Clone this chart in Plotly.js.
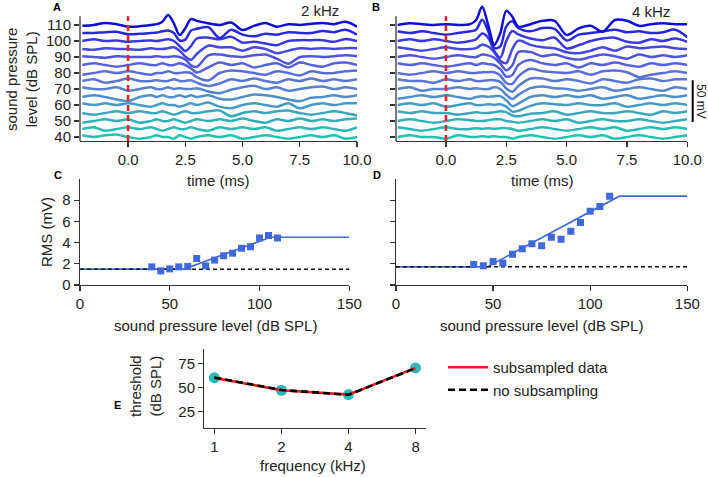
<!DOCTYPE html>
<html><head><meta charset="utf-8">
<script src="https://cdn.plot.ly/plotly-3.0.1.min.js"></script>
<style>html,body{margin:0;padding:0;background:#fff}#chart{width:708px;height:477px}</style>
</head><body><div id="chart"></div>
<script>
// ---------- data ----------
const timeMs = [-2,-1.5,-1,-0.5,0,0.5,1,1.25,1.5,1.75,2,2.25,2.5,2.75,3,3.5,4,4.5,5,5.5,6,6.5,7,7.5,8,8.5,9,9.5,10];
const levels = [40,45,50,55,60,65,70,75,80,85,90,95,100,105,110];
const levelTicks = [40,50,60,70,80,90,100,110];
const MV_PER_50 = 26; // 50 mV scale bar spans 26 dB-units on the offset axis

// 2 kHz ABR traces (mV, deflection from each level's baseline)
const A110 = [-1,0,2.5,1,-2,-1.5,0,1,4,12,2,-12,-4,7,5,2,0,3,-6,-1,2.5,-2,1,0,1.5,2.5,1,4,-2];
const A105 = [0,0,1,1.5,-1.5,-1,0,0.5,2,3,0,-9,-8,3,5,7,-6,4,-2,-4,-1,-2,1,0,0,2.5,1,4,-2];
const A100 = [0,2,0,0.5,-1,0,0.5,0,1,2,0,-6,-12,-6,3,4,2,5,-2,-1,-3,-5,0,1,1,1,-1,2.5,0];
const A95  = [0,-1,1,0,0,-1,1,0,0,1,2,-2,-9,-13,-6,4,2,2,-2,2,0,-5,-2,1,0,1,0,1,1];
const A90  = [1,0,-1,1,0,0,0,1,0,0,1,0,-3,-10,-12,2,3,1,0,2,3,-2,-8,0,1,0,1,2,1];
const A85  = [0,2,0,-2,0,2,0,0,2,0,0,2,0,-4,-9,-3,3,0,2,-3,0,2,-3,3,0,-2,2,3,0];
const A80  = [-2,0,2,0,2,0,-2,0,0,2,0,0,1,0,-5,-9,0,3,2,0,-2,2,0,-3,2,0,0,2,3];
const A75  = [0,2,-2,0,3,0,0,1,0,0,2,0,0,1,-2,-6,-3,2,0,3,0,-2,2,0,3,0,2,0,2];
const A70  = [2,0,0,2,-2,0,2,0,0,2,0,1,0,0,1,-3,-5,-1,2,4,0,2,-2,0,2,3,0,2,0];
const A65  = [0,2,0,-3,-5,0,2,0,2,0,0,2,0,2,0,2,-2,-3,0,3,2,0,-3,-5,-1,0,2,0,2];
const A60  = [2,0,2,0,2,0,-2,0,2,0,0,-2,0,2,0,3,-2,-4,0,2,0,-2,2,-4,0,2,0,2,2];
const A55  = [0,-2,0,2,0,2,0,0,2,0,-2,0,2,0,0,2,3,-4,0,2,0,2,3,0,-2,0,2,0,-3];
const A50  = [-2,0,2,0,2,-2,0,2,0,0,2,0,-2,0,2,0,2,0,3,0,-2,2,0,3,0,2,0,2,3];
const A45  = [0,2,-2,0,2,0,2,0,-2,0,2,0,0,2,0,-2,2,0,2,0,2,-2,0,2,0,2,0,-2,2];
const A40  = [2,0,2,3,0,-2,0,2,0,0,-2,2,0,-2,0,2,0,2,-2,0,2,0,-2,0,2,0,2,-2,0];

// 4 kHz ABR traces (mV)
const B110 = [0,2,1,0,1,0,1,6,22,0,-24,-10,17,10,-2,1,5,5,-12,-4,-1,-8,6,5,-1,1,2,1,1];
const B105 = [2,0,2,0,-2,0,2,4,16,2,-18,-16,8,14,6,2,6,5,-9,-2,0,2,4,1,2,0,1,4,-5];
const B100 = [0,2,0,2,0,-2,0,2,9,4,-12,-20,0,12,8,3,1,4,-9,-5,0,3,4,-1,-2,2,0,3,-1];
const B95  = [2,0,-2,0,2,0,0,1,5,3,-4,-14,-17,0,10,5,2,1,-4,-5,-2,2,-2,3,1,2,3,1,0];
const B90  = [0,2,0,-2,0,2,0,0,3,2,-1,-8,-16,-10,6,6,1,3,-1,-3,0,3,1,-2,3,0,2,0,2];
const B85  = [2,0,2,0,-2,0,2,0,2,1,0,-5,-14,-12,0,6,2,0,2,-3,2,0,3,0,-2,2,0,2,0];
const B80  = [0,-2,0,2,0,2,0,0,1,1,1,-3,-12,-13,-4,5,2,1,0,2,-2,2,3,1,-5,-2,0,2,0];
const B75  = [2,0,0,-2,2,0,2,0,0,1,1,-1,-9,-13,-6,3,3,0,2,0,-3,2,0,-2,2,3,0,2,2];
const B70  = [0,2,-2,0,0,2,0,1,0,0,2,0,-7,-12,-7,1,3,1,0,-2,0,2,-2,0,2,0,-2,2,0];
const B65  = [-2,0,2,0,2,0,-2,0,1,0,1,1,-4,-11,-8,0,2,0,2,0,2,-2,0,2,-2,0,2,0,2];
const B60  = [0,2,0,2,-2,0,2,0,0,1,0,1,-2,-8,-7,-1,2,1,0,2,0,0,2,-2,0,2,0,2,0];
const B55  = [2,0,2,0,0,-2,0,1,0,0,1,2,1,-3,-4,-1,0,2,-2,0,2,0,0,2,0,-2,2,0,2];
const B50  = [0,2,0,-2,0,2,1,0,0,1,2,2,0,-1,-2,0,2,0,2,-2,0,2,0,0,2,0,-2,0,2];
const B45  = [2,0,-2,0,2,0,0,1,0,1,0,1,1,0,-2,0,2,0,-2,0,2,0,2,-2,0,2,0,2,0];
const B40  = [0,2,0,0,-2,2,0,0,1,0,1,0,0,-2,0,2,0,-2,0,2,0,2,-2,0,2,0,-2,0,2];

// RMS vs level
const splLevels = [40,45,50,55,60,65,70,75,80,85,90,95,100,105,110];
const rms2k = [1.71,1.33,1.52,1.71,1.75,2.5,1.8,2.35,2.76,3.0,3.46,3.62,4.44,4.67,4.44];
const rms4k = [1.94,1.81,2.22,2.06,2.89,3.43,3.90,3.71,4.51,4.32,5.08,5.90,6.95,7.40,8.38];
const fit2kX = [0,58,106,150];
const fit2kY = [1.5,1.5,4.5,4.5];
const fit4kX = [0,47,115,150];
const fit4kY = [1.71,1.71,8.38,8.38];
const noiseX = [0,150];
const noise2k = [1.49,1.49];
const noise4k = [1.71,1.71];

// thresholds
const freqKHz = [1,2,4,8];
const thrSub = [60,47.2,42.7,70.3];
const thrSubErr = [2.2,4,2.8,1.6];
const thrNoSub = [60.3,47.5,42.5,70];

// ---------- helpers ----------
const W = 708, H = 477;
const px = v => v / W;
const py = v => 1 - v / H;
const FONT = 'Liberation Sans, Arial, sans-serif';
const TXT = '#222';
const AX = '#333';
const colors = ['rgb(30,195,178)','rgb(40,186,182)','rgb(50,176,186)','rgb(60,166,190)','rgb(70,155,196)',
  'rgb(78,143,201)','rgb(85,131,206)','rgb(90,120,211)','rgb(90,110,215)','rgb(86,98,218)',
  'rgb(80,86,220)','rgb(70,72,221)','rgb(56,56,221)','rgb(40,40,220)','rgb(14,14,214)'];

const wavesA = [A40,A45,A50,A55,A60,A65,A70,A75,A80,A85,A90,A95,A100,A105,A110];
const wavesB = [B40,B45,B50,B55,B60,B65,B70,B75,B80,B85,B90,B95,B100,B105,B110];
const k = MV_PER_50 / 50;

const data = [];
function addWaves(waves, xa, ya) {
  waves.forEach((w, i) => {
    data.push({
      x: timeMs, y: w.map(v => levels[i] + v * k), xaxis: xa, yaxis: ya,
      type: 'scatter', mode: 'lines', showlegend: false, hoverinfo: 'skip',
      line: {color: colors[i], width: 2.5, shape: 'spline', smoothing: 0.9}
    });
  });
}
addWaves(wavesA, 'x', 'y');
addWaves(wavesB, 'x2', 'y2');

const blue = 'rgb(65,105,220)';
function addRms(vals, fx, fy, nz, xa, ya) {
  data.push({x: fx, y: fy, xaxis: xa, yaxis: ya, type: 'scatter', mode: 'lines',
    line: {color: blue, width: 1.6}, showlegend: false});
  data.push({x: noiseX, y: nz, xaxis: xa, yaxis: ya, type: 'scatter', mode: 'lines',
    line: {color: '#111', width: 1.5, dash: '4px,3px'}, showlegend: false});
  data.push({x: splLevels, y: vals, xaxis: xa, yaxis: ya, type: 'scatter', mode: 'markers',
    marker: {symbol: 'square', size: 7, color: blue}, showlegend: false});
}
addRms(rms2k, fit2kX, fit2kY, noise2k, 'x3', 'y3');
addRms(rms4k, fit4kX, fit4kY, noise4k, 'x4', 'y4');

const teal = 'rgb(45,184,190)';
data.push({x: freqKHz, y: thrSub, xaxis: 'x5', yaxis: 'y5', type: 'scatter', mode: 'markers',
  marker: {size: 11, color: teal}, error_y: {type: 'data', array: thrSubErr, thickness: 9, width: 0, color: teal},
  showlegend: false});
data.push({x: freqKHz, y: thrSub, xaxis: 'x5', yaxis: 'y5', type: 'scatter', mode: 'lines',
  name: 'subsampled data', line: {color: '#ee1c1c', width: 2.6}});
data.push({x: freqKHz, y: thrNoSub, xaxis: 'x5', yaxis: 'y5', type: 'scatter', mode: 'lines',
  name: 'no subsampling', line: {color: '#000', width: 2.6, dash: '7px,4px'}});

function axis(o) {
  return Object.assign({
    showgrid: false, zeroline: false, showline: true, linecolor: AX, linewidth: 1.3,
    ticks: 'outside', ticklen: 5, tickwidth: 1.3, tickcolor: AX,
    tickfont: {family: FONT, size: 15, color: TXT}, fixedrange: true
  }, o);
}
const yWaveRange = [37.5, 123];
const yWaveDom = [py(141), py(4.2)];

const layout = {
  width: W, height: H, margin: {l: 0, r: 0, t: 0, b: 0},
  paper_bgcolor: '#fff', plot_bgcolor: 'rgba(0,0,0,0)',
  font: {family: FONT, size: 15, color: TXT},
  xaxis: axis({domain: [px(80), px(357)], range: [-2.1, 10], tickvals: [0,2.5,5,7.5,10], tickformat: '.1f', anchor: 'y'}),
  yaxis: axis({domain: yWaveDom, range: yWaveRange, tickvals: levelTicks, showline: false, anchor: 'x'}),
  xaxis2: axis({domain: [px(396), px(687.3)], range: [-2.07, 10], tickvals: [0,2.5,5,7.5,10], tickformat: '.1f', anchor: 'y2'}),
  yaxis2: axis({domain: yWaveDom, range: yWaveRange, tickvals: levelTicks, showline: false, showticklabels: false, anchor: 'x2'}),
  xaxis3: axis({domain: [px(80), px(349.3)], range: [0, 150], tickvals: [0,50,100,150], anchor: 'y3'}),
  yaxis3: axis({domain: [py(285), py(179)], range: [0, 10], tickvals: [0,2,4,6,8], anchor: 'x3'}),
  xaxis4: axis({domain: [px(396), px(687.3)], range: [0, 150], tickvals: [0,50,100,150], anchor: 'y4'}),
  yaxis4: axis({domain: [py(285), py(179)], range: [0, 10], tickvals: [0,2,4,6,8], showticklabels: false, anchor: 'x4'}),
  xaxis5: axis({domain: [px(204.3), px(426)], type: 'log', range: [-0.045, 0.95], tickvals: freqKHz, ticktext: freqKHz.map(String), anchor: 'y5'}),
  yaxis5: axis({domain: [py(427.7), py(349.3)], range: [8.5, 89.5], tickvals: [25,50,75], anchor: 'x5'}),
  showlegend: true,
  legend: {x: px(443), y: py(351), xanchor: 'left', yanchor: 'top', font: {family: FONT, size: 15, color: TXT},
    bgcolor: 'rgba(0,0,0,0)', itemwidth: 40, tracegroupgap: 0},
  shapes: [],
  annotations: []
};

// y spines (shorter than the plotting area, as in the figure)
[['x','y'],['x2','y2']].forEach(([xa, ya]) => {
  layout.shapes.push({type: 'line', xref: xa + ' domain', yref: ya, x0: 0, x1: 0, y0: 37.5, y1: 115.4,
    line: {color: AX, width: 1.3}, layer: 'above'});
  layout.shapes.push({type: 'line', xref: xa, yref: ya, x0: 0, x1: 0, y0: 37.5, y1: 115.4,
    line: {color: '#e3232b', width: 2.6, dash: '6px,4px'}, layer: 'above'});
});
// 50 mV scale bar
layout.shapes.push({type: 'line', xref: 'paper', yref: 'y2', x0: px(692.7), x1: px(692.7), y0: 49.4, y1: 49.4 + MV_PER_50,
  line: {color: '#000', width: 2}});

function ann(text, x, y, o) {
  layout.annotations.push(Object.assign({text, x: px(x), y: py(y), xref: 'paper', yref: 'paper',
    showarrow: false, xanchor: 'center', yanchor: 'middle', font: {family: FONT, size: 15, color: TXT}}, o || {}));
}
ann('<b>A</b>', 57, 7, {font: {family: FONT, size: 11, color: '#000'}});
ann('<b>B</b>', 376, 7, {font: {family: FONT, size: 11, color: '#000'}});
ann('<b>C</b>', 58, 175, {font: {family: FONT, size: 11, color: '#000'}});
ann('<b>D</b>', 377, 175, {font: {family: FONT, size: 11, color: '#000'}});
ann('<b>E</b>', 117, 405, {font: {family: FONT, size: 11, color: '#000'}});
ann('2 kHz', 320, 11);
ann('4 kHz', 651, 12);
ann('sound pressure<br>level (dB SPL)', 21, 80, {textangle: -90});
ann('time (ms)', 218, 180);
ann('time (ms)', 542, 180);
ann('RMS (mV)', 46, 232, {textangle: -90});
ann('sound pressure level (dB SPL)', 215, 325);
ann('sound pressure level (dB SPL)', 541, 325);
ann('threshold<br>(dB SPL)', 145, 386, {textangle: -90});
ann('frequency (kHz)', 313, 465);
ann('50 mV', 701, 101, {textangle: 90, font: {family: FONT, size: 12, color: TXT}});

Plotly.newPlot('chart', data, layout, {displayModeBar: false, staticPlot: true});
</script></body></html>
